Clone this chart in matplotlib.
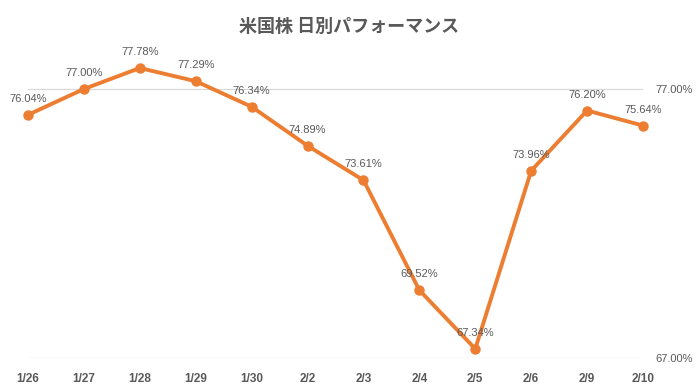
import matplotlib.pyplot as plt
from matplotlib.ticker import FuncFormatter

plt.rcParams['font.family'] = ['Noto Sans CJK JP', 'DejaVu Sans']

# データ
dates = ['1/26', '1/27', '1/28', '1/29', '1/30', '2/2', '2/3', '2/4', '2/5', '2/6', '2/9', '2/10']
perf = [76.04, 77.00, 77.78, 77.29, 76.34, 74.89, 73.61, 69.52, 67.34, 73.96, 76.20, 75.64]
yticks = [67, 77]

W, H = 698, 392
fig = plt.figure(figsize=(W / 100, H / 100), dpi=100)
# 軸の位置 (ピクセルから)
left, right = 28 / W, 643 / W
bottom = 1 - 358 / H
top = 1 - (89 - 2 * 26.9) / H
ax = fig.add_axes([left, bottom, right - left, top - bottom])

x = range(len(dates))
ax.plot(x, perf, color='#ED7D31', lw=2.8, marker='o', ms=6.5, clip_on=False, zorder=3)

for i, v in zip(x, perf):
    ax.annotate('%.2f%%' % v, (i, v), xytext=(0, 11.5), textcoords='offset points',
                ha='center', va='center', fontsize=8, color='#595959',
                family=['Liberation Sans', 'DejaVu Sans'])

ax.set_xlim(0, len(dates) - 1)
ax.set_ylim(67, 79)
ax.set_xticks(list(x))
ax.set_xticklabels(dates, fontsize=8.5, fontweight='bold', color='#595959',
                   family=['Liberation Sans', 'DejaVu Sans'])
ax.yaxis.tick_right()
ax.set_yticks(yticks)
ax.yaxis.set_major_formatter(FuncFormatter(lambda v, p: '%.2f%%' % v))
for lab in ax.get_yticklabels():
    lab.set_family(['Liberation Sans', 'DejaVu Sans'])
ax.tick_params(axis='y', length=0, pad=9, labelsize=8, labelcolor='#595959')
ax.tick_params(axis='x', length=0, pad=11)
ax.grid(axis='y', color='#D9D9D9', lw=0.9)
ax.set_axisbelow(True)
for s in ax.spines.values():
    s.set_visible(False)

fig.text(0.5, 1 - 26 / H, '米国株 日別パフォーマンス', ha='center', va='center',
         fontsize=13, fontweight='bold', color='#595959')

fig.savefig('out.png', dpi=100, facecolor='white')
